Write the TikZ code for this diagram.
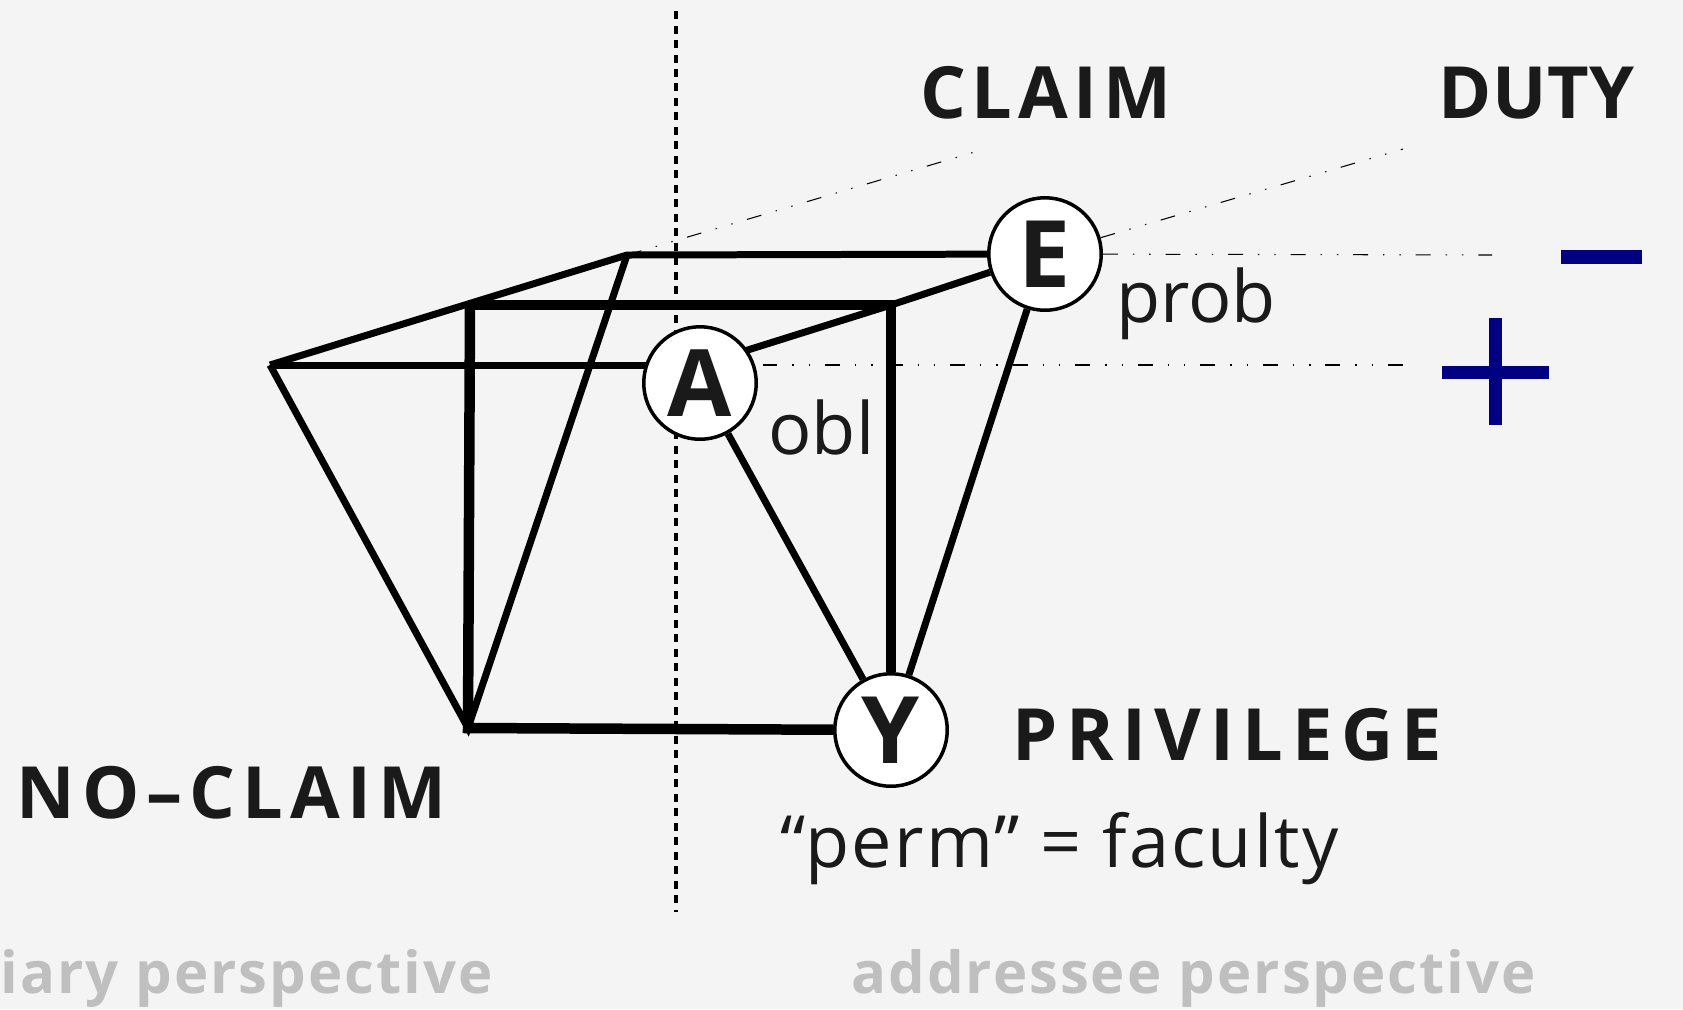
\documentclass[tikz,border=0pt]{standalone}
\usepackage{fontspec}
\setmainfont{Open Sans}
\usetikzlibrary{positioning,backgrounds}
\definecolor{bgcol}{HTML}{F4F4F4}
\definecolor{ink}{HTML}{1A1A1A}
\definecolor{perspgrey}{HTML}{BFBFBF}
\definecolor{signblue}{HTML}{000080}

\begin{document}
\begin{tikzpicture}[x=0.02cm,y=-0.02cm,
    edge/.style={line width=0.14cm},
    heavy/.style={line width=0.21cm},
    guide/.style={line width=0.6pt,dash pattern=on 8.5pt off 8.5pt on 0.8pt off 8.5pt on 0.8pt off 8.5pt},
    divider/.style={line width=0.07cm,dash pattern=on 0.16cm off 0.13cm},
    vertex/.style={circle,draw,fill=white,line width=0.07cm,minimum size=2.25cm,inner sep=0pt,
        text=ink,font=\fontsize{53}{53}\selectfont\bfseries},
    relation/.style={text=ink,inner sep=0pt,
        font=\fontsize{41}{41}\selectfont\bfseries\addfontfeatures{LetterSpace=#1}},
    relation/.default=8,
    modal/.style={text=ink,inner sep=0pt,font=\fontsize{41}{41}\selectfont},
    persp/.style={text=perspgrey,inner sep=0pt,
        font=\fontsize{33}{33}\selectfont\bfseries\addfontfeatures{LetterSpace=3.5}},
    sign/.style={signblue,line width=0.26cm}]
\useasboundingbox (0,0) rectangle (1683,1009);

% corners of the figure
\coordinate (left) at (270,365);
\coordinate (back) at (627,255);
\coordinate (front) at (470,305);
\coordinate (corner) at (891,305);
\coordinate (low) at (468,728);
\coordinate (claimtip) at (978,151);
\coordinate (dutytip) at (1403,149);
\coordinate (minusend) at (1492,255);
\coordinate (plusend) at (1415,365);

\node[vertex] (E) at (1045,254) {E};
\node[vertex] (A) at (700,383) {A};
\node[vertex] (Y) at (891,730) {Y};

\begin{scope}[on background layer]
    \fill[bgcol] (0,0) rectangle (1683,1009);
    \draw[divider] (676,11) -- (676,912);
    \draw[edge] (left) -- (back) -- (E);
    \draw[edge] (left) -- (left -| A);
    \draw[edge] (left -| A) -- (corner) -- (E);
    \draw[edge] (left) -- (low) -- (back);
    \draw[edge] (A) -- (Y);
    \draw[edge] (E) -- (Y);
    \draw[heavy] (front) -- (corner) -- (Y);
    \draw[heavy] (front) -- (low) -- (Y);
    \draw[guide] (back) -- (claimtip);
    \draw[guide] (E) -- (dutytip);
    \draw[guide] (E) -- (minusend);
    \draw[guide] (left -| A) -- (plusend);
\end{scope}

\node[relation,anchor=base west] (claim) at (920,118) {CLAIM};
\node[relation=1,anchor=base west] (duty) at (1438,118) {DUTY};
\node[relation=12,anchor=base west] (privilege) at (1012,760) {PRIVILEGE};
\node[relation=10,anchor=base west] (noclaim) at (16,818) {NO–CLAIM};
\node[modal,anchor=base west] (prob) at (1116,322) {prob};
\node[modal,anchor=base west] (obl) at (768,454) {obl};
\node[modal,anchor=base west,font=\fontsize{41}{41}\selectfont\addfontfeatures{LetterSpace=3}] (perm) at (780,867) {“perm” = faculty};
\node[persp,anchor=base west] (benef) at (0,993) {iary perspective};
\node[persp,anchor=base west] (addr) at (851,993) {addressee perspective};

% signs
\draw[sign,line width=0.28cm] (1561,257) -- (1642,257);
\draw[sign] (1442,372) -- (1549,372);
\draw[sign] (1495,318) -- (1495,425);
\end{tikzpicture}
\end{document}
